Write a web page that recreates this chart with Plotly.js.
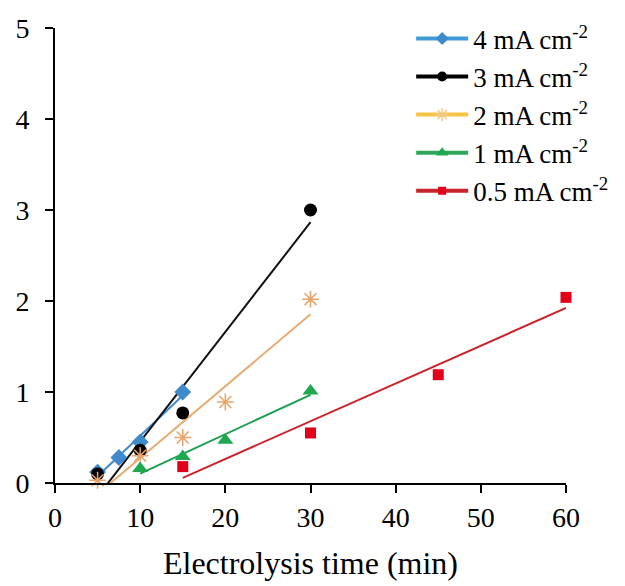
<!DOCTYPE html>
<html>
<head>
<meta charset="utf-8">
<script src="https://cdn.plot.ly/plotly-3.0.1.min.js"></script>
<style>html,body{margin:0;padding:0;background:#fff;}#chart{width:625px;height:586px;}</style>
</head>
<body>
<div id="chart"></div>
<script>
// Data
var seriesNames = ['4 mA cm<sup>-2</sup>', '3 mA cm<sup>-2</sup>', '2 mA cm<sup>-2</sup>', '1 mA cm<sup>-2</sup>', '0.5 mA cm<sup>-2</sup>'];
var x4 = [5, 7.5, 10, 15];
var y4 = [0.12, 0.28, 0.45, 1.0];
var x3 = [5, 10, 15, 30];
var y3 = [0.10, 0.36, 0.77, 3.0];
var x2 = [5, 10, 15, 20, 30];
var y2 = [0.03, 0.30, 0.50, 0.89, 2.02];
var x1 = [10, 15, 20, 30];
var y1 = [0.16, 0.29, 0.47, 1.01];
var x05 = [15, 30, 45, 60];
var y05 = [0.18, 0.55, 1.19, 2.04];

var styles = [
  {marker: {symbol: 'diamond', size: 13, color: '#3F8ACB'}, line: '#3F8ACB', legendLine: '#3E9BD8', legendMarker: '#3F8ACB'},
  {marker: {symbol: 'circle', size: 13, color: '#000000'}, line: '#111111', legendLine: '#000000', legendMarker: '#000000'},
  {marker: {symbol: 'asterisk-open', size: 14, color: '#E8A36A', line: {width: 1.5, color: '#E8A36A'}}, line: '#E9AB72', legendLine: '#F5C445', legendMarker: '#F2C98A'},
  {marker: {symbol: 'triangle-up', size: 14, color: '#1FA84F'}, line: '#1E9E50', legendLine: '#2EA65A', legendMarker: '#1FA84F'},
  {marker: {symbol: 'square', size: 11, color: '#E3001B'}, line: '#C8242C', legendLine: '#C8242C', legendMarker: '#E3001B'}
];

var xs = [x4, x3, x2, x1, x05];
var ys = [y4, y3, y2, y1, y05];

function fit(x, y) {
  var n = x.length, mx = 0, my = 0;
  for (var i = 0; i < n; i++) { mx += x[i]; my += y[i]; }
  mx /= n; my /= n;
  var sxx = 0, sxy = 0;
  for (var j = 0; j < n; j++) { sxx += (x[j]-mx)*(x[j]-mx); sxy += (x[j]-mx)*(y[j]-my); }
  var b = sxy / sxx, a = my - b * mx;
  var x0 = Math.min.apply(null, x), x1v = Math.max.apply(null, x);
  return {x: [x0, x1v], y: [a + b * x0, a + b * x1v]};
}

var traces = [];
for (var k = 0; k < 5; k++) {
  var f = fit(xs[k], ys[k]);
  traces.push({x: f.x, y: f.y, mode: 'lines', line: {color: styles[k].line, width: 2}, showlegend: false, hoverinfo: 'skip'});
}
for (var k2 = 0; k2 < 5; k2++) {
  var m = JSON.parse(JSON.stringify(styles[k2].marker));
  traces.push({x: xs[k2], y: ys[k2], mode: 'markers', marker: m, showlegend: false, cliponaxis: false});
}
for (var k3 = 0; k3 < 5; k3++) {
  var lm = JSON.parse(JSON.stringify(styles[k3].marker));
  lm.color = styles[k3].legendMarker;
  lm.size = Math.round(lm.size * 0.75);
  if (lm.line) lm.line.color = styles[k3].legendMarker;
  traces.push({x: [null], y: [null], mode: 'lines+markers', name: seriesNames[k3], line: {color: styles[k3].legendLine, width: 4}, marker: lm, showlegend: true});
}

var serif = "'Liberation Serif', 'Times New Roman', Times, serif";
var layout = {
  width: 625, height: 586,
  margin: {l: 55, r: 57, t: 28, b: 103},
  paper_bgcolor: '#ffffff', plot_bgcolor: '#ffffff',
  font: {family: serif, color: '#000'},
  showlegend: true,
  legend: {x: 0.697, y: 1.03, xanchor: 'left', yanchor: 'top', font: {family: serif, size: 27, color: '#000'}, bgcolor: 'rgba(0,0,0,0)', traceorder: 'normal', itemwidth: 52},
  xaxis: {
    range: [0, 60], dtick: 10, tick0: 0, showgrid: false, zeroline: false,
    showline: true, linecolor: '#000', linewidth: 2,
    ticks: 'outside', ticklen: 8, tickwidth: 2, tickcolor: '#000',
    tickfont: {family: serif, size: 28, color: '#000'},
    title: {text: 'Electrolysis time (min)', font: {family: serif, size: 32, color: '#000'}, standoff: 20}
  },
  yaxis: {
    range: [0, 5], dtick: 1, tick0: 0, showgrid: false, zeroline: false,
    showline: true, linecolor: '#000', linewidth: 2,
    ticks: 'outside', ticklen: 8, tickwidth: 2, tickcolor: '#000',
    tickfont: {family: serif, size: 28, color: '#000'},
    ticklabelstandoff: 10
  }
};
Plotly.newPlot('chart', traces, layout, {displayModeBar: false, staticPlot: true});
</script>
</body>
</html>
